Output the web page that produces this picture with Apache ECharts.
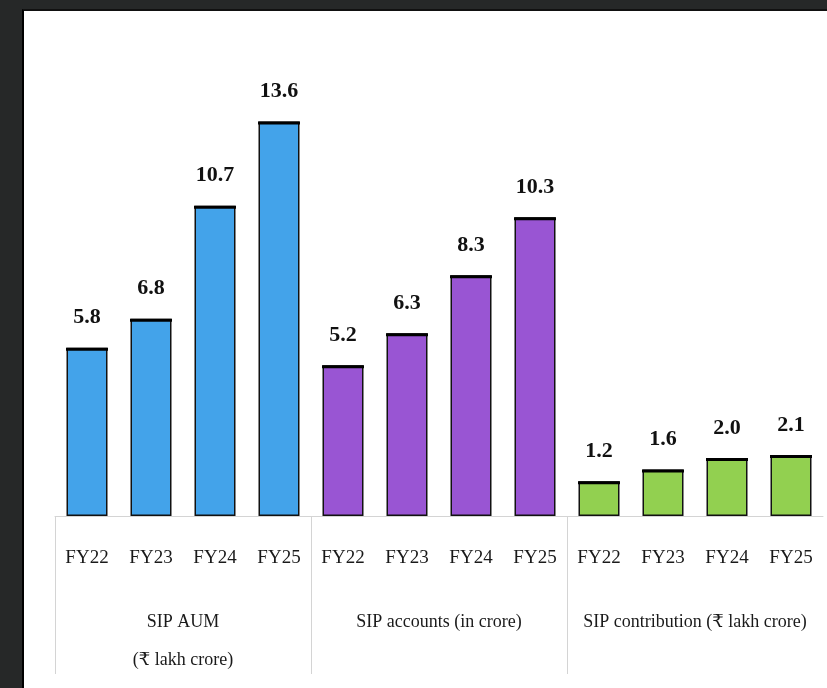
<!DOCTYPE html>
<html>
<head>
<meta charset="utf-8">
<script src="https://cdn.jsdelivr.net/npm/echarts@6/dist/echarts.min.js"></script>
<style>
html,body{margin:0;padding:0;background:#262828;width:827px;height:688px;overflow:hidden;}
#frame{position:absolute;left:22px;top:9px;width:805px;height:679px;border-left:2px solid #000;border-top:2px solid #111;background:#fff;}
#chart{position:absolute;left:0;top:0;width:805px;height:679px;}
</style>
</head>
<body>
<div id="frame"><div id="chart"></div></div>
<script>
const categories = ['FY22','FY23','FY24','FY25','FY22','FY23','FY24','FY25','FY22','FY23','FY24','FY25'];
const groups = ['SIP AUM\n(₹ lakh crore)', 'SIP accounts (in crore)', 'SIP contribution (₹ lakh crore)'];
const groupBoundaries = [0, 1, 2];
const groupCenters = [0.5, 1.5, 2.5];
const sipAum = [5.8, 6.8, 10.7, 13.6];
const sipAccounts = [5.2, 6.3, 8.3, 10.3];
const sipContribution = [1.2, 1.6, 2.0, 2.1];
const groupColors = ['#43A3EA', '#9955D3', '#92D050'];

const allValues = [sipAum, sipAccounts, sipContribution];
const barData = [];
allValues.forEach((arr, g) => arr.forEach(v => barData.push({ value: v, itemStyle: { color: groupColors[g] } })));
const capData = barData.map(d => d.value);

const chart = echarts.init(document.getElementById('chart'));
const serif = '"Liberation Serif", "DejaVu Serif", serif';
chart.setOption({
  animation: false,
  backgroundColor: '#ffffff',
  grid: { left: 31, right: 6, top: 41, bottom: 174 },
  xAxis: [
    {
      type: 'category', data: categories,
      axisLine: { show: true, lineStyle: { color: '#d4d4d4', width: 1 } },
      axisTick: { show: false },
      axisLabel: { interval: 0, margin: 33, color: '#1a1a1a', fontFamily: serif, fontSize: 19 }
    },
    {
      type: 'value', min: 0, max: groups.length, position: 'bottom',
      axisLine: { show: false },
      splitLine: { show: false },
      axisTick: { show: true, length: 158, customValues: groupBoundaries, lineStyle: { color: '#d4d4d4', width: 1 } },
      axisLabel: {
        customValues: groupCenters, margin: 87, color: '#1a1a1a', fontFamily: serif, fontSize: 18, lineHeight: 38,
        formatter: v => groups[Math.floor(v)] || ''
      }
    }
  ],
  yAxis: { type: 'value', min: 0, max: 16, show: false, splitLine: { show: false } },
  series: [
    {
      type: 'bar', data: barData, barWidth: 41, xAxisIndex: 0,
      itemStyle: { borderColor: '#111', borderWidth: 1.5 },
      label: {
        show: true, position: 'top', distance: 19,
        formatter: p => p.value.toFixed(1),
        color: '#111', fontFamily: serif, fontWeight: 'bold', fontSize: 22
      }
    },
    {
      type: 'pictorialBar', data: capData, xAxisIndex: 0,
      symbol: 'rect', symbolSize: [42, 3], symbolPosition: 'end',
      itemStyle: { color: '#000' }, z: 5, silent: true
    }
  ]
});
</script>
</body>
</html>
